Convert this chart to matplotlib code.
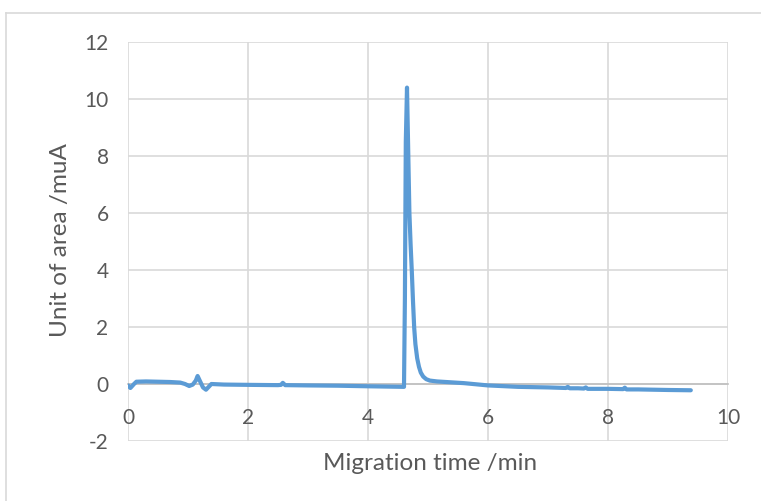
import matplotlib.pyplot as plt
from matplotlib.lines import Line2D

# values
time = [0.0, 0.04, 0.1, 0.14, 0.3, 0.5, 0.7, 0.87, 0.95, 1.02, 1.08, 1.13, 1.16, 1.2, 1.25, 1.3, 1.39,
        1.6, 2.0, 2.5, 2.55, 2.58, 2.62, 3.0, 3.5, 4.0, 4.3, 4.6, 4.615, 4.63, 4.65, 4.67, 4.69,
        4.71, 4.73, 4.75, 4.77, 4.79, 4.82, 4.85, 4.88, 4.92, 4.97, 5.03, 5.15, 5.3, 5.6, 6.0,
        6.5, 7.0, 7.3, 7.33, 7.36, 7.5, 7.6, 7.63, 7.66, 8.0, 8.25, 8.28, 8.31, 8.5, 9.0, 9.38]
signal = [-0.05, -0.14, 0.0, 0.08, 0.09, 0.08, 0.07, 0.05, 0.0, -0.07, -0.02, 0.12, 0.28, 0.1,
          -0.12, -0.2, 0.0, -0.02, -0.03, -0.04, -0.03, 0.04, -0.04, -0.05, -0.06, -0.08, -0.09,
          -0.1, 3.0, 8.5, 10.4, 8.2, 6.0, 4.9, 3.96, 2.9, 1.97, 1.4, 0.9, 0.6, 0.4, 0.26, 0.17,
          0.12, 0.09, 0.07, 0.03, -0.05, -0.1, -0.12, -0.14, -0.1, -0.15, -0.15, -0.16, -0.12,
          -0.17, -0.17, -0.18, -0.13, -0.19, -0.19, -0.21, -0.22]

xticks = [0, 2, 4, 6, 8, 10]
yticks = [-2, 0, 2, 4, 6, 8, 10, 12]

plt.rcParams['font.family'] = ['Lato', 'DejaVu Sans']
plt.rcParams['axes.unicode_minus'] = False
txt = '#595959'

fig = plt.figure(figsize=(7.61, 5.01), dpi=100)
ax = fig.add_axes([128/761, 1-441/501, 600/761, 399/501])

ax.plot(time, signal, color='#5B9BD5', linewidth=3.0, solid_joinstyle='round',
        solid_capstyle='round', zorder=3)

ax.set_xlim(0, 10)
ax.set_ylim(-2, 12)
ax.set_xticks(xticks)
ax.set_yticks(yticks)
ax.grid(True, color='#D9D9D9', linewidth=1.2)
ax.set_axisbelow(True)

for s in ['top', 'right', 'left']:
    ax.spines[s].set_visible(False)
ax.spines['bottom'].set_position(('data', 0))
ax.spines['bottom'].set_color('#BFBFBF')
ax.spines['bottom'].set_linewidth(1.2)
ax.tick_params(axis='both', length=0, labelsize=15, colors=txt)
ax.tick_params(axis='x', pad=17)
ax.tick_params(axis='y', pad=14)

fig.text(430/761, 1-463/501, 'Migration time /min', ha='center', va='center',
         fontsize=17.5, color=txt)
fig.text(60/761, 1-240/501, 'Unit of area /muA', ha='center', va='center',
         rotation=90, fontsize=17.5, color=txt)

# chart border (top and left edges visible)
bx, by = 6/761, 1-13/501
fig.add_artist(Line2D([bx, 1.0], [by, by], transform=fig.transFigure, color='#D9D9D9', lw=1.2))
fig.add_artist(Line2D([bx, bx], [0.0, by], transform=fig.transFigure, color='#D9D9D9', lw=1.2))

fig.savefig('out.png', dpi=100)
